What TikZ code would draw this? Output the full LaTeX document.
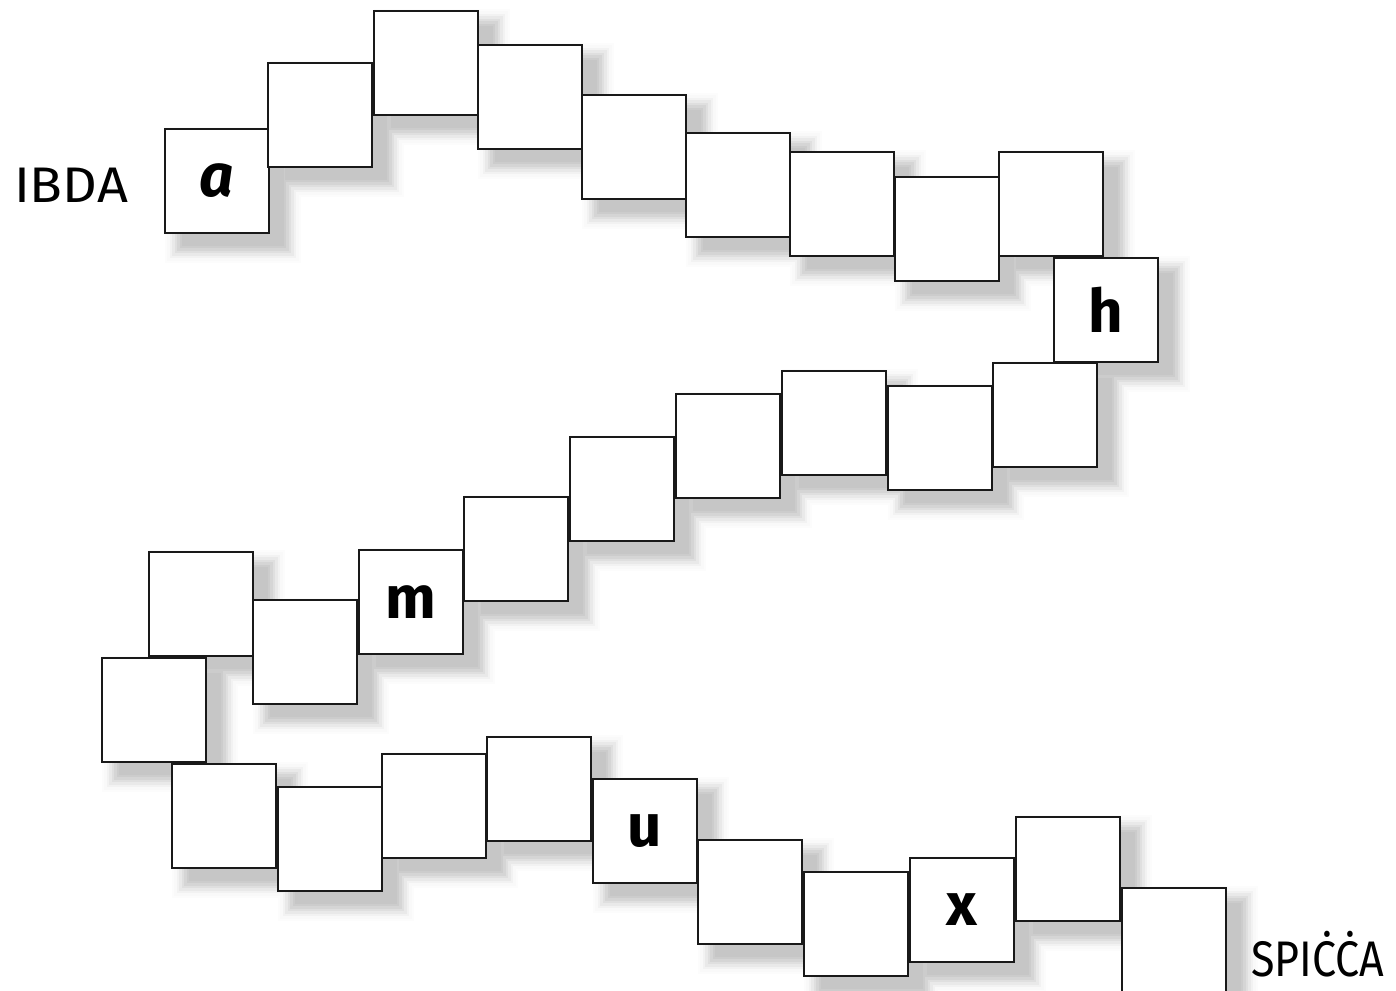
\documentclass[tikz,border=0pt]{standalone}
\usepackage{fontspec}
\setmainfont{Fira Sans}
\pgfdeclarelayer{bg}
\pgfsetlayers{bg,main}
\begin{document}
\begin{tikzpicture}[x=0.5pt,y=-0.5pt,
  box/.style={draw=black!90, line width=1.25pt, fill=white, minimum size=52pt, inner sep=0pt,
    font=\fontsize{30}{30}\selectfont\bfseries},
  lbl/.style={font=\fontsize{25}{25}\selectfont, inner sep=0pt, transform shape}]
\useasboundingbox (0,0) rectangle (1396,990);
\foreach \n/\x/\y/\t in {
  1/165/129/{\itshape a}, 2/268/63/{}, 3/374/11/{}, 4/478/45/{}, 5/582/95/{},
  6/686/133/{}, 7/790/152/{}, 8/895/177/{}, 9/999/152/{}, 10/1054/258/h,
  11/993/363/{}, 12/888/386/{}, 13/782/371/{}, 14/676/394/{}, 15/570/437/{},
  16/464/497/{}, 17/359/550/m, 18/253/600/{}, 19/149/552/{}, 20/102/658/{},
  21/172/764/{}, 22/278/787/{}, 23/382/754/{}, 24/487/737/{}, 25/593/779/u,
  26/698/840/{}, 27/804/872/{}, 28/910/858/x, 29/1016/817/{}, 30/1122/888/{}}
  \node[box] (b\n) at (\x+52,\y+52) {\t};
\begin{pgfonlayer}{bg}
\foreach \e/\c in {10/1, 7.5/2.5, 5/5, 2.5/8.5, 0/12.5, -2.5/16.5, -5/20, -7.5/22.5} {
  \foreach \n in {1,...,30}
    \fill[black!\c] ([shift={(11-\e,9-\e)}]b\n.north west) rectangle ([shift={(21+\e,19+\e)}]b\n.south east);
}
\end{pgfonlayer}
\node[lbl, xscale=1.08] (start) at (71,185) {IBDA};
\node[lbl, xscale=0.86] (finish) at (1318,954) {SPIĊĊA};
\end{tikzpicture}
\end{document}
